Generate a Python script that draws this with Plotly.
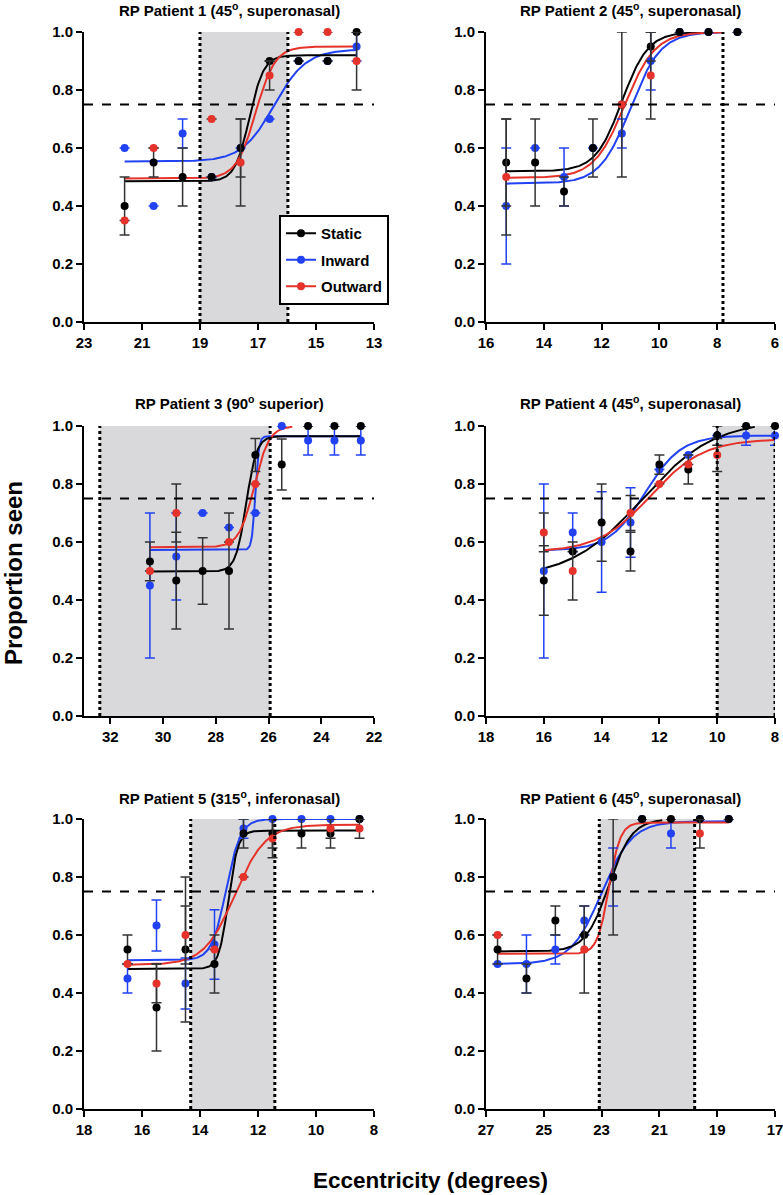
import numpy as np
import plotly.graph_objects as go

# ---------------- data ----------------
titles = [
    "RP Patient 1 (45<sup>o</sup>, superonasal)",
    "RP Patient 2 (45<sup>o</sup>, superonasal)",
    "RP Patient 3 (90<sup>o</sup> superior)",
    "RP Patient 4 (45<sup>o</sup>, superonasal)",
    "RP Patient 5 (315<sup>o</sup>, inferonasal)",
    "RP Patient 6 (45<sup>o</sup>, superonasal)",
]
series_names = ["Static", "Inward", "Outward"]

# Patient 1
p1_x = [21.6, 20.6, 19.6, 18.6, 17.6, 16.6, 15.6, 14.6, 13.6]
p1_static = [0.40, 0.55, 0.50, 0.50, 0.60, 0.90, 0.90, 0.90, 1.00]
p1_inward = [0.60, 0.40, 0.65, 0.50, 0.60, 0.70, 0.90, 0.90, 0.95]
p1_outward = [0.35, 0.60, None, 0.70, 0.55, 0.85, 1.00, 1.00, 0.90]
p1_static_err = [0.10, 0.05, 0.10, 0, 0.10, 0, 0, 0, 0]
p1_inward_err = [0, 0, 0.05, 0, 0, 0, 0, 0, 0.05]
p1_outward_err = [0, 0, 0, 0, 0.15, 0.05, 0, 0, 0.10]
# fit params: bottom, top, x50, slope, x_from, x_to
p1_fit_static = [0.485, 0.92, 17.30, 4.0, 21.6, 13.6]
p1_fit_inward = [0.553, 0.94, 16.45, 1.8, 21.6, 13.6]
p1_fit_outward = [0.495, 0.95, 17.08, 3.0, 21.6, 13.6]

# Patient 2
p2_x = [15.3, 14.3, 13.3, 12.3, 11.3, 10.3, 9.3, 8.3, 7.3]
p2_static = [0.55, 0.55, 0.45, 0.60, 0.75, 0.95, 1.00, 1.00, 1.00]
p2_inward = [0.40, 0.60, 0.50, 0.60, 0.65, 0.90, 1.00, 1.00, 1.00]
p2_outward = [0.50, None, None, None, 0.75, 0.85, None, None, None]
p2_static_err = [0.15, 0.15, 0.05, 0.10, 0.25, 0.05, 0, 0, 0]
p2_inward_err = [0.20, 0, 0.10, 0, 0.05, 0.10, 0, 0, 0]
p2_outward_err = [0.20, 0, 0, 0, 0, 0.15, 0, 0, 0]
p2_fit_static = [0.520, 1.00, 11.30, 2.2, 15.3, 7.8]
p2_fit_inward = [0.477, 1.00, 11.00, 1.9, 15.3, 7.8]
p2_fit_outward = [0.497, 1.00, 11.20, 1.9, 15.3, 7.8]

# Patient 3
p3_x = [30.5, 29.5, 28.5, 27.5, 26.5, 25.5, 24.5, 23.5, 22.5]
p3_static = [0.533, 0.467, 0.50, 0.50, 0.90, 0.867, 1.00, 1.00, 1.00]
p3_inward = [0.45, 0.55, 0.70, 0.65, 0.70, 1.00, 0.95, 0.95, 0.95]
p3_outward = [0.50, 0.70, None, 0.60, 0.80, None, None, None, None]
p3_static_err = [0.067, 0.167, 0.115, 0.20, 0.057, 0.088, 0, 0, 0]
p3_inward_err = [0.25, 0.15, 0, 0, 0, 0, 0.05, 0.05, 0.05]
p3_outward_err = [0, 0.10, 0, 0, 0, 0, 0, 0, 0]
p3_fit_static = [0.498, 0.965, 26.85, 5.0, 30.5, 22.5]
p3_fit_inward = [0.572, 0.965, 26.50, 15.0, 30.5, 22.5]
p3_fit_outward = [0.582, 1.00, 26.55, 3.5, 30.5, 25.1]

# Patient 4
p4_x = [16, 15, 14, 13, 12, 11, 10, 9, 8]
p4_static = [0.467, 0.567, 0.667, 0.567, 0.867, 0.85, 0.967, 1.00, 1.00]
p4_inward = [0.50, 0.633, 0.60, 0.667, 0.85, 0.90, 0.967, 0.967, 0.967]
p4_outward = [0.633, 0.50, None, 0.70, 0.80, 0.867, 0.90, None, None]
p4_static_err = [0.12, 0, 0.133, 0.067, 0.033, 0.05, 0.033, 0, 0]
p4_inward_err = [0.30, 0.067, 0.173, 0.12, 0, 0, 0, 0.033, 0.033]
p4_outward_err = [0.067, 0.10, 0, 0.06, 0, 0, 0.057, 0, 0]
p4_fit_static = [0.475, 1.02, 12.60, 0.8, 16.0, 8.7]
p4_fit_inward = [0.570, 0.967, 12.50, 1.6, 16.0, 8.0]
p4_fit_outward = [0.565, 0.955, 12.30, 1.1, 16.0, 8.0]

# Patient 5
p5_x = [16.5, 15.5, 14.5, 13.5, 12.5, 11.5, 10.5, 9.5, 8.5]
p5_static = [0.55, 0.35, 0.55, 0.50, 0.95, 0.95, 0.95, 0.95, 1.00]
p5_inward = [0.45, 0.633, 0.433, 0.567, 0.967, 1.00, 1.00, 1.00, 1.00]
p5_outward = [0.50, 0.433, 0.60, 0.55, 0.80, 0.933, None, 0.967, 0.967]
p5_static_err = [0.05, 0.15, 0.25, 0.10, 0.05, 0.05, 0.05, 0.05, 0]
p5_inward_err = [0.05, 0.088, 0.088, 0.12, 0.033, 0, 0, 0, 0]
p5_outward_err = [0, 0.067, 0.10, 0, 0, 0.067, 0, 0.033, 0.033]
p5_fit_static = [0.483, 0.96, 13.02, 6.0, 16.5, 8.5]
p5_fit_inward = [0.513, 1.00, 13.10, 4.0, 16.5, 8.5]
p5_fit_outward = [0.497, 0.98, 12.80, 1.9, 16.5, 8.5]

# Patient 6
p6_x = [26.6, 25.6, 24.6, 23.6, 22.6, 21.6, 20.6, 19.6, 18.6]
p6_static = [0.55, 0.45, 0.65, 0.60, 0.80, 1.00, 1.00, 1.00, 1.00]
p6_inward = [0.50, 0.50, 0.55, 0.65, 0.80, 1.00, 0.95, 1.00, 1.00]
p6_outward = [0.60, None, None, 0.55, None, None, None, 0.95, None]
p6_static_err = [0.05, 0.05, 0.05, 0, 0.20, 0, 0, 0, 0]
p6_inward_err = [0, 0.10, 0.05, 0.05, 0.10, 0, 0.05, 0, 0]
p6_outward_err = [0, 0, 0, 0.15, 0, 0, 0, 0.05, 0]
p6_fit_static = [0.543, 1.00, 22.75, 2.5, 26.6, 20.9]
p6_fit_inward = [0.500, 0.992, 23.00, 1.9, 26.6, 18.6]
p6_fit_outward = [0.535, 0.988, 22.75, 5.0, 26.6, 18.6]

# axes
x_ranges = [[23, 13], [16, 6], [33, 22], [18, 8], [18, 8], [27, 17]]
x_ticks = [
    [23, 21, 19, 17, 15, 13],
    [16, 14, 12, 10, 8, 6],
    [32, 30, 28, 26, 24, 22],
    [18, 16, 14, 12, 10, 8],
    [18, 16, 14, 12, 10, 8],
    [27, 25, 23, 21, 19, 17],
]
y_ticks = [0.0, 0.2, 0.4, 0.6, 0.8, 1.0]
threshold = 0.75
shaded = [[19.0, 15.97], None, [32.4, 25.94], [10.0, 8.0], [14.32, 11.42], [23.08, 19.78]]
dotted = [[19.0, 15.97], [7.8], [32.4, 25.94], [10.0, 8.0], [14.32, 11.42], [23.08, 19.78]]

panels = [
    (p1_x, [p1_static, p1_inward, p1_outward], [p1_static_err, p1_inward_err, p1_outward_err],
     [p1_fit_static, p1_fit_inward, p1_fit_outward]),
    (p2_x, [p2_static, p2_inward, p2_outward], [p2_static_err, p2_inward_err, p2_outward_err],
     [p2_fit_static, p2_fit_inward, p2_fit_outward]),
    (p3_x, [p3_static, p3_inward, p3_outward], [p3_static_err, p3_inward_err, p3_outward_err],
     [p3_fit_static, p3_fit_inward, p3_fit_outward]),
    (p4_x, [p4_static, p4_inward, p4_outward], [p4_static_err, p4_inward_err, p4_outward_err],
     [p4_fit_static, p4_fit_inward, p4_fit_outward]),
    (p5_x, [p5_static, p5_inward, p5_outward], [p5_static_err, p5_inward_err, p5_outward_err],
     [p5_fit_static, p5_fit_inward, p5_fit_outward]),
    (p6_x, [p6_static, p6_inward, p6_outward], [p6_static_err, p6_inward_err, p6_outward_err],
     [p6_fit_static, p6_fit_inward, p6_fit_outward]),
]

# ---------------- style ----------------
W, H = 783, 1195
FONT = "Liberation Sans, Arial, Helvetica, sans-serif"
colors = ["#000000", "#2141F2", "#E5322A"]
err_colors = ["#333333", "#2141F2", "#333333"]
draw_order = [1, 0, 2]  # inward, static, outward
# target positions in page pixels
col_px = [(84, 374), (486, 775)]
row_px = [(32, 322), (426, 716), (819, 1109)]
title_y_px = [9, 402, 797]


def px_x(v):
    return v / W


def px_y(v):
    return 1 - v / H


fig = go.Figure()
layout = dict(
    width=W, height=H, margin=dict(l=0, r=0, t=0, b=0, autoexpand=False),
    paper_bgcolor="white", plot_bgcolor="white", showlegend=True,
    font=dict(family=FONT, color="black"),
)
shapes = []
annotations = []


def logistic(p, n=300):
    b, t, x50, k, xa, xb = p
    xs = np.linspace(xa, xb, n)
    return xs, b + (t - b) / (1.0 + np.exp(k * (xs - x50)))


for i, (xv, ys, errs, fits) in enumerate(panels):
    r, c = divmod(i, 2)
    ax = "" if i == 0 else str(i + 1)
    xd = [px_x(col_px[c][0]), px_x(col_px[c][1])]
    yd = [px_y(row_px[r][1]), px_y(row_px[r][0])]
    common = dict(showline=True, linewidth=2, linecolor="black", ticks="outside", ticklen=6, tickwidth=2,
                  tickcolor="black", showgrid=False, zeroline=False, automargin=False,
                  ticklabeloverflow="allow",
                  tickfont=dict(family=FONT, size=15, weight="bold", color="black"))
    layout["xaxis" + ax] = dict(domain=xd, range=x_ranges[i], tickvals=x_ticks[i], anchor="y" + ax, **common)
    layout["yaxis" + ax] = dict(domain=yd, range=[0, 1], tickvals=y_ticks, tickformat=".1f",
                                anchor="x" + ax, **common)
    xr, yr = "x" + ax, "y" + ax
    if shaded[i]:
        shapes.append(dict(type="rect", xref=xr, yref=yr, x0=shaded[i][0], x1=shaded[i][1], y0=0, y1=1,
                           fillcolor="#D9D9DB", line=dict(width=0), layer="below"))
    for xl in dotted[i]:
        shapes.append(dict(type="line", xref=xr, yref=yr, x0=xl, x1=xl, y0=0, y1=1,
                           line=dict(color="black", width=3, dash="dot"), layer="above"))
    shapes.append(dict(type="line", xref=xr + " domain", yref=yr, x0=0, x1=1, y0=threshold, y1=threshold,
                       line=dict(color="black", width=2, dash="dash"), layer="above"))

    for s in draw_order:
        fx, fy = logistic(fits[s])
        fig.add_trace(go.Scatter(x=fx, y=fy, mode="lines", xaxis=xr, yaxis=yr,
                                 line=dict(color=colors[s], width=2), showlegend=False,
                                 hoverinfo="skip"))
    for s in draw_order:
        e = [v if v else None for v in errs[s]]
        fig.add_trace(go.Scatter(
            x=xv, y=ys[s], mode="markers", xaxis=xr, yaxis=yr, cliponaxis=False,
            marker=dict(color=colors[s], size=8),
            error_y=dict(type="data", array=e, symmetric=True, color=err_colors[s], thickness=1.5, width=5),
            showlegend=False, name=series_names[s]))

    cx = px_x((col_px[c][0] + col_px[c][1]) / 2)
    annotations.append(dict(text="<b>" + titles[i] + "</b>", x=cx, y=px_y(title_y_px[r]),
                            xref="paper", yref="paper", xanchor="center", yanchor="middle",
                            showarrow=False, font=dict(family=FONT, size=15, color="black")))

# legend entries
for s in range(3):
    fig.add_trace(go.Scatter(x=[None], y=[None], mode="lines+markers", name=series_names[s],
                             legendgroup=series_names[s],
                             line=dict(color=colors[s], width=2), marker=dict(color=colors[s], size=8),
                             xaxis="x", yaxis="y"))

annotations.append(dict(text="<b>Proportion seen</b>", x=px_x(14), y=px_y(573), xref="paper", yref="paper",
                        textangle=-90, showarrow=False, xanchor="center", yanchor="middle",
                        font=dict(family=FONT, size=24, color="black")))
annotations.append(dict(text="<b>Eccentricity (degrees)</b>", x=px_x(430), y=px_y(1180), xref="paper",
                        yref="paper", showarrow=False, xanchor="center", yanchor="middle",
                        font=dict(family=FONT, size=22.5, color="black")))

layout["legend"] = dict(x=px_x(389), y=px_y(215), xanchor="right", yanchor="top",
                        bordercolor="black", borderwidth=2, bgcolor="white",
                        font=dict(family=FONT, size=15, weight="bold", color="black"),
                        itemwidth=30, tracegroupgap=4, traceorder="grouped")
layout["shapes"] = shapes
layout["annotations"] = annotations
fig.update_layout(**layout)
# remove the browser's default 8px page margin so the figure fills the window exactly
fig.write_html("out.html", config={"displayModeBar": False},
               post_script="document.body.style.margin='0px';")
